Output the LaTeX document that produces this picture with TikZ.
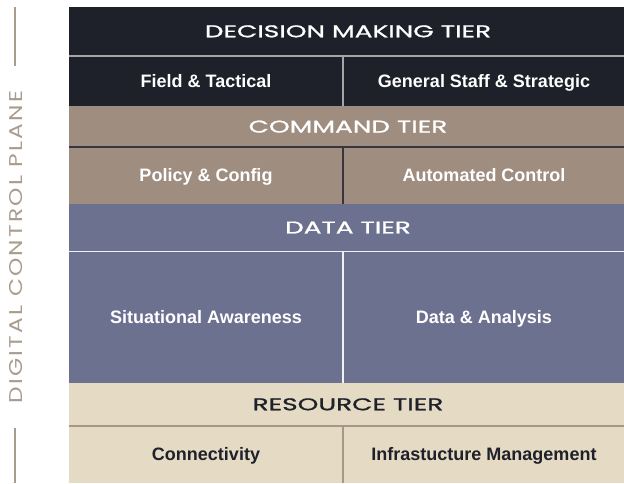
\documentclass[tikz,border=0pt]{standalone}
\usepackage{fontspec}
\setmainfont{Liberation Sans}
\newfontfamily\tierfont[FakeStretch=1.55,FakeBold=1.2]{Poppins}
\newfontfamily\planefont[FakeStretch=1.26,LetterSpace=12]{Poppins}
\usetikzlibrary{positioning}
\definecolor{colorDecision}{HTML}{1E202A}
\definecolor{colorCommand}{HTML}{9F8E80}
\definecolor{colorData}{HTML}{6D7190}
\definecolor{colorResource}{HTML}{E5DAC3}
\definecolor{colorPlane}{HTML}{A99B8D}
\definecolor{colorResLine}{HTML}{A89786}

\tikzset{
  tiertext/.style={font=\tierfont\fontsize{17}{17}\selectfont, inner sep=0pt, text height=11.9pt, text depth=0pt},
  celltext/.style={font=\bfseries\fontsize{18}{18}\selectfont, inner sep=0pt, text height=12.9pt, text depth=0pt},
  divider/.style={line width=1.6pt},
}

\begin{document}
\begin{tikzpicture}[x=1pt,y=-1pt]
        \useasboundingbox (0,0) rectangle (624,483);
        % side label
        \draw[colorPlane, line width=1.8pt] (15,7) -- (15,66);
        \draw[colorPlane, line width=1.8pt] (15,428) -- (15,483);
        \node[rotate=90, inner sep=0pt, text=colorPlane, font=\planefont\fontsize{18.5}{18.5}\selectfont] (plane) at (16.5,247) {DIGITAL CONTROL PLANE};
        % decision making tier
        \fill[colorDecision] (69,7) rectangle (624,106);
        \draw[divider, gray!70] (69,55.7) -- (624,55.7);
        \draw[divider, gray!70] (343,55.7) -- (343,106);
        \node[tiertext, text=white] (decision) at (348,31.3) {DECISION MAKING TIER};
        \node[celltext, text=white] (field) at (206,80.9) {Field \& Tactical};
        \node[celltext, text=white] (general) at (484,80.9) {General Staff \& Strategic};
        % command tier
        \fill[colorCommand] (69,106) rectangle (624,203.5);
        \draw[divider, colorDecision!90] (69,146.7) -- (624,146.7);
        \draw[divider, colorDecision!90] (343,146.7) -- (343,203.5);
        \node[tiertext, text=white] (command) at (348,126.6) {COMMAND TIER};
        \node[celltext, text=white] (policy) at (206,175.1) {Policy \& Config};
        \node[celltext, text=white] (automated) at (484,175.1) {Automated Control};
        % data tier
        \fill[colorData] (69,203.5) rectangle (624,382.5);
        \draw[divider, white!90!colorData] (69,251.5) -- (624,251.5);
        \draw[divider, white!90!colorData] (343,251.5) -- (343,382.5);
        \node[tiertext, text=white] (data) at (348,227.5) {DATA TIER};
        \node[celltext, text=white] (situational) at (206,317) {Situational Awareness};
        \node[celltext, text=white] (analysis) at (484,317) {Data \& Analysis};
        % resource tier
        \fill[colorResource] (69,382.5) rectangle (624,483);
        \draw[divider, colorResLine] (69,426) -- (624,426);
        \draw[divider, colorResLine] (343,426) -- (343,483);
        \node[tiertext, text=colorDecision] (resource) at (348,404.3) {RESOURCE TIER};
        \node[celltext, text=colorDecision] (connectivity) at (206,454.5) {Connectivity};
        \node[celltext, text=colorDecision] (infra) at (484,454.5) {Infrastucture Management};
    \end{tikzpicture}
\end{document}
